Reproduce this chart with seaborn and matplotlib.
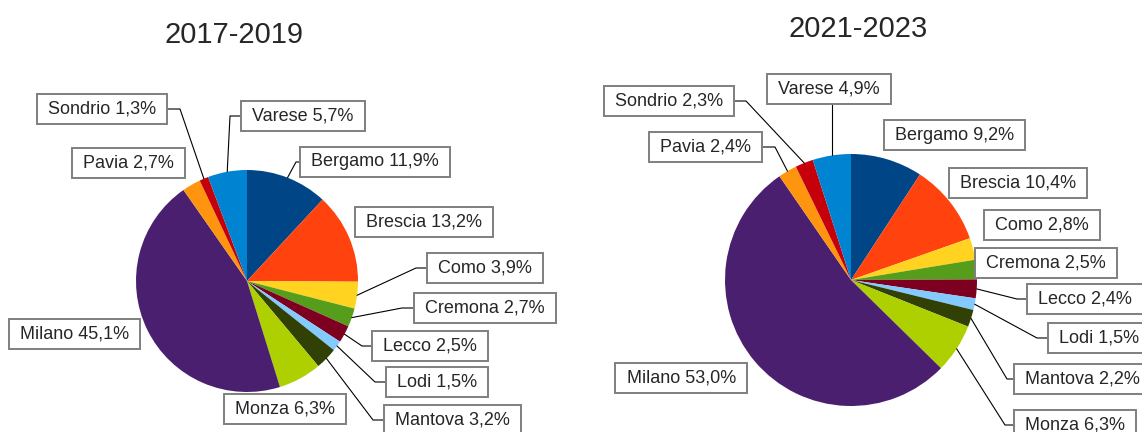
import numpy as np
import matplotlib.pyplot as plt
import seaborn as sns

provinces = ['Bergamo', 'Brescia', 'Como', 'Cremona', 'Lecco', 'Lodi',
             'Mantova', 'Monza', 'Milano', 'Pavia', 'Sondrio', 'Varese']
share_2017_2019 = [11.9, 13.2, 3.9, 2.7, 2.5, 1.5, 3.2, 6.3, 45.1, 2.7, 1.3, 5.7]
share_2021_2023 = [9.2, 10.4, 2.8, 2.5, 2.4, 1.5, 2.2, 6.3, 53.0, 2.4, 2.3, 4.9]
periods = ['2017-2019', '2021-2023']
province_colors = ['#004586', '#FF420E', '#FFD320', '#579D1C', '#7E0021', '#83CAFF',
                   '#314004', '#AECF00', '#4B1F6F', '#FF950E', '#C5000B', '#0084D1']

sns.set_theme(style="white")
plt.rcParams['font.family'] = ['Liberation Sans', 'DejaVu Sans']
palette = sns.color_palette(province_colors)

W, H = 1142, 432
FS = 13
PAD = 0.34
pad_px = PAD * FS * 100 / 72

# label layout in pixels: box edge x, box centre y, alignment, leader side, elbow x
layout_left = {
    'Bergamo': (300, 162, 'left', 'L', 296),
    'Brescia': (355, 222, 'left', None, None),
    'Como':    (427, 268, 'left', 'L', 416),
    'Cremona': (414, 308, 'left', 'L', 402),
    'Lecco':   (372, 346, 'left', 'L', 362),
    'Lodi':    (386, 382, 'left', 'L', 375),
    'Mantova': (384, 420, 'left', 'L', 373),
    'Monza':   (224, 409, 'left', None, None),
    'Milano':  (140, 334, 'right', None, None),
    'Pavia':   (185, 163, 'right', None, None),
    'Sondrio': (167, 109, 'right', 'R', 180),
    'Varese':  (241, 116, 'left', 'L', 230),
}
layout_right = {
    'Bergamo': (884, 135, 'left', None, None),
    'Brescia': (949, 183, 'left', None, None),
    'Como':    (984, 225, 'left', None, None),
    'Cremona': (975, 263, 'left', None, None),
    'Lecco':   (1027, 299, 'left', 'L', 1017),
    'Lodi':    (1048, 338, 'left', 'L', 1037),
    'Mantova': (1014, 379, 'left', 'L', 1007),
    'Monza':   (1014, 425, 'left', 'L', 1005),
    'Milano':  (747, 378, 'right', None, None),
    'Pavia':   (762, 147, 'right', 'R', 775),
    'Sondrio': (734, 101, 'right', 'R', 746),
    'Varese':  (829, 89, 'center', 'B', None),
}

pies = [
    (share_2017_2019, (247, 281), 111, (234, 43), layout_left),
    (share_2021_2023, (851, 280), 126, (858, 37), layout_right),
]

fig = plt.figure(figsize=(W / 100, H / 100), dpi=100)
ax = fig.add_axes([0, 0, 1, 1])

box = dict(boxstyle=f'square,pad={PAD}', facecolor='white', edgecolor='#7f7f7f', linewidth=1.4)

for (values, (cx, cy), r, (tx, ty), layout), period in zip(pies, periods):
    wedges, _ = ax.pie(values, colors=palette, startangle=90, counterclock=False,
                       center=(cx, H - cy), radius=r, wedgeprops=dict(linewidth=0))
    ax.text(tx, H - ty, period, fontsize=21, ha='center', va='baseline')

    for name, val, w in zip(provinces, values, wedges):
        x, y, ha, side, elbow = layout[name]
        label = f' {name} {val:.1f}% '.replace('.', ',')
        off = {'left': pad_px, 'right': -pad_px, 'center': 0}[ha]
        ax.text(x + off, H - y, label, fontsize=FS, ha=ha, va='center', bbox=box, zorder=5)

        if side is None:
            continue
        mid = np.deg2rad((w.theta1 + w.theta2) / 2)
        ex = cx + r * np.cos(mid)
        ey = H - cy + r * np.sin(mid)
        if side == 'B':
            ax.plot([ex, ex], [H - y - 15, ey], color='black', lw=0.8, zorder=4)
        else:
            ax.plot([x, elbow, ex], [H - y, H - y, ey], color='black', lw=0.8, zorder=4)

ax.set_xlim(0, W)
ax.set_ylim(0, H)
ax.set_aspect('equal')
ax.axis('off')

plt.savefig('out.png', dpi=100)
plt.close()
